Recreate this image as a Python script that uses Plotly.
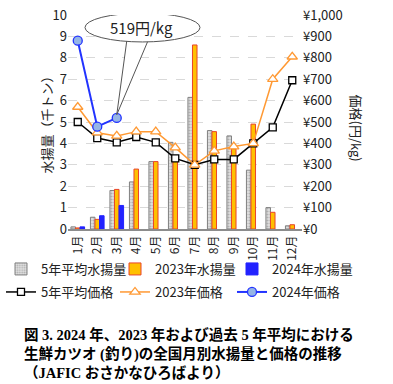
import plotly.graph_objects as go

months = ["1月", "2月", "3月", "4月", "5月", "6月", "7月", "8月", "9月", "10月", "11月", "12月"]
catch_avg5 = [0.1, 0.55, 1.8, 2.2, 3.15, 4.05, 6.15, 4.6, 4.35, 2.75, 1.0, 0.15]
catch_2023 = [0.05, 0.45, 1.85, 2.8, 3.15, 3.35, 8.6, 4.55, 3.75, 4.9, 0.78, 0.2]
catch_2024 = [0.1, 0.62, 1.1, None, None, None, None, None, None, None, None, None]
price_avg5 = [500, 425, 405, 430, 405, 330, 300, 325, 325, 400, 475, 695]
price_2023 = [570, 450, 435, 455, 455, 380, 300, 365, 385, 400, 700, 805]
price_2024 = [880, 478, 519, None, None, None, None, None, None, None, None, None]
left_ticks = list(range(0, 11))
right_ticks = list(range(0, 1001, 100))
right_labels = [f"¥{v:,}" for v in right_ticks]

FONT = "Noto Sans CJK JP"
W, H = 393, 384
ML, MT, MR, MB = 68, 15, 91, 155
PW, PH = W - ML - MR, H - MT - MB


def px_x(px):
    return (px - ML) / PW


def px_y(py):
    return (H - MB - py) / PH


fig = go.Figure()

fig.add_bar(x=months, y=catch_avg5, name="5年平均水揚量", legend="legend",
            marker=dict(color="#d0d0d0", line=dict(color="#808080", width=1),
                        pattern=dict(shape=".", fgcolor="#808080", bgcolor="#e0e0e0", size=3, solidity=0.4)))
fig.add_bar(x=months, y=catch_2023, name="2023年水揚量", legend="legend2",
            marker=dict(color="#FFC000", line=dict(color="#E8442C", width=1)))
fig.add_bar(x=months, y=catch_2024, name="2024年水揚量", legend="legend3",
            marker=dict(color="#2222FF", line=dict(color="#2222FF", width=1)))

fig.add_scatter(x=months, y=price_avg5, name="5年平均価格", yaxis="y2", legend="legend4",
                mode="lines+markers", line=dict(color="#000000", width=1.5),
                marker=dict(symbol="square", size=7, color="white", line=dict(color="#000000", width=1.3)))
fig.add_scatter(x=months, y=price_2023, name="2023年価格", yaxis="y2", legend="legend5",
                mode="lines+markers", line=dict(color="#FF9933", width=1.5),
                marker=dict(symbol="triangle-up", size=9, color="white", line=dict(color="#FF9933", width=1.3)))
fig.add_scatter(x=months, y=price_2024, name="2024年価格", yaxis="y2", legend="legend6",
                mode="lines+markers", line=dict(color="#2233FF", width=2),
                marker=dict(symbol="circle", size=9, color="#95B5E6", line=dict(color="#2233FF", width=1.3)))

# callout for the March 2024 price
tip_x = months.index("3月")
tip_y = price_2024[tip_x] / 100 + 0.15
fig.add_shape(type="path", xref="x", yref="y",
              path=f"M 2.53 8.9 L {tip_x} {tip_y} L 3.65 8.9 Z",
              fillcolor="white", line=dict(color="#555555", width=1), layer="above")
fig.add_shape(type="circle", xref="x", yref="y", x0=0.37, x1=6.27, y0=8.74, y1=10.09,
              fillcolor="white", line=dict(color="#555555", width=1), layer="above")
fig.add_annotation(x=3.25, y=9.42, xref="x", yref="y", text=f"{price_2024[tip_x]}円/kg",
                   showarrow=False, font=dict(size=15, color="#222", family=FONT))

fig.add_annotation(x=px_x(368), y=px_y(128), xref="paper", yref="paper", text="価格(円/kg)",
                   textangle=90, showarrow=False, font=dict(size=13, color="#222", family=FONT))
fig.add_annotation(x=px_x(34), y=px_y(122), xref="paper", yref="paper", text="水揚量（千トン）",
                   textangle=-90, showarrow=False, font=dict(size=13, color="#222", family=FONT))

fig.add_annotation(x=px_x(22), y=px_y(324), xref="paper", yref="paper", xanchor="left", yanchor="top",
                   align="left", showarrow=False,
                   text="<b>図 3. 2024 年、2023 年および過去 5 年平均における<br>生鮮カツオ (釣り)の全国月別水揚量と価格の推移<br>（JAFIC おさかなひろばより）</b>",
                   font=dict(size=14.5, color="#000", family="Liberation Serif, Noto Sans CJK JP"))

legend_style = dict(orientation="h", xanchor="left", yanchor="middle", font=dict(size=13),
                    bgcolor="rgba(0,0,0,0)", itemwidth=30, visible=True)
text_x = [46, 162, 279]
row_y = [269, 292]
legends = {}
k = 0
for r in range(2):
    for c in range(3):
        k += 1
        key = "legend" if k == 1 else f"legend{k}"
        legends[key] = dict(legend_style, x=px_x(max(text_x[c] - 47, 1)), y=px_y(row_y[r]))

fig.update_layout(
    width=W, height=H,
    margin=dict(l=ML, r=MR, t=MT, b=MB, autoexpand=False),
    paper_bgcolor="white", plot_bgcolor="white",
    showlegend=True,
    barmode="group", bargap=0.3, bargroupgap=0,
    font=dict(family=FONT, size=12, color="#222"),
    xaxis=dict(type="category", range=[-0.5, 11.5], tickangle=-90, showgrid=False,
               showline=True, linecolor="#8c8c8c", linewidth=1.5, ticks="",
               tickfont=dict(size=12), automargin=False),
    yaxis=dict(range=[0, 10], tickvals=left_ticks, showgrid=True, gridcolor="#d9d9d9",
               griddash="dash", zeroline=False, tickfont=dict(size=13), automargin=False,
               ticklabeloverflow="allow"),
    yaxis2=dict(range=[0, 1000], tickvals=right_ticks, ticktext=right_labels, overlaying="y", side="right",
                showgrid=False, zeroline=False, tickfont=dict(size=13), automargin=False,
                ticklabeloverflow="allow"),
    **legends,
)

fig.write_html("out.html", config={"displayModeBar": False},
               post_script="document.body.style.margin='0px';")
